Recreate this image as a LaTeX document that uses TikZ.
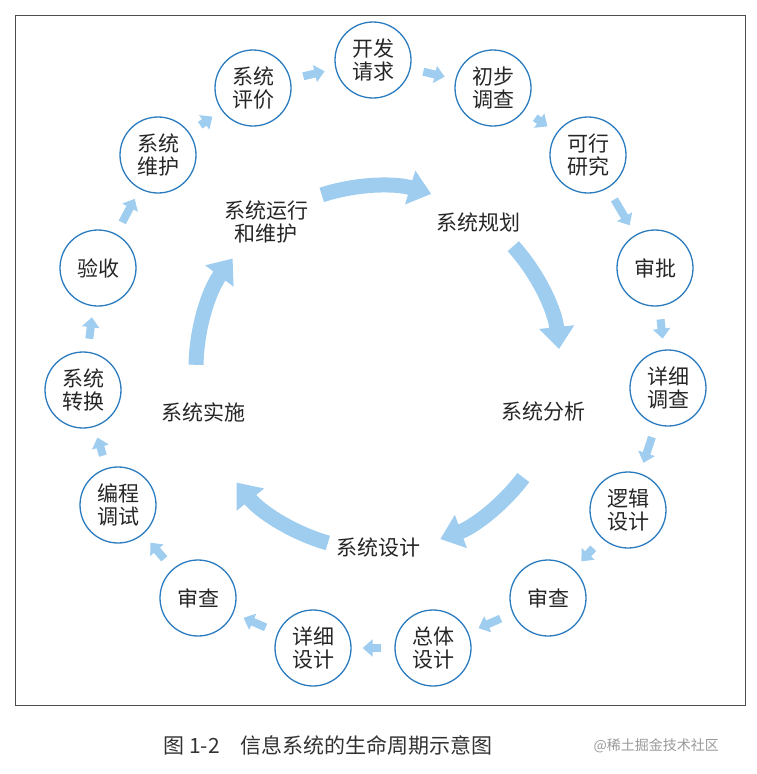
\documentclass[tikz,border=0pt]{standalone}
\usepackage{fontspec}
\setmainfont{Noto Sans CJK SC}
\usetikzlibrary{arrows.meta}
\definecolor{lb}{HTML}{9FCDF0}
\definecolor{cb}{HTML}{2B7BBF}
\tikzset{x=1pt,y=-1pt,
 stage/.style={circle,draw=cb,line width=1.3pt,minimum size=76pt,inner sep=0pt,align=center,font=\fontsize{21}{23}\selectfont,text=black!85},
 smallarr/.style={draw=lb,line width=8pt,shorten <=13pt,shorten >=11pt,-{Triangle[length=10pt,width=17pt]}},
 bigarr/.style={draw=lb,line width=15pt,-{Triangle[length=22pt,width=34pt]}},
 phase/.style={font=\fontsize{21}{23}\selectfont,align=center,text=black!85}}
\begin{document}
\begin{tikzpicture}
\useasboundingbox (0,0) rectangle (756,774);
\draw[black!70,line width=0.8pt] (15,15) rectangle (745,705);
\node[stage] (n1) at (373,60) {开发\\请求};
\node[stage] (n2) at (493,88) {初步\\调查};
\node[stage] (n3) at (588,155) {可行\\研究};
\node[stage] (n4) at (655,268) {审批};
\node[stage] (n5) at (668,388) {详细\\调查};
\node[stage] (n6) at (628,510) {逻辑\\设计};
\node[stage] (n7) at (548,598) {审查};
\node[stage] (n8) at (433,648) {总体\\设计};
\node[stage] (n9) at (313,648) {详细\\设计};
\node[stage] (n10) at (198,598) {审查};
\node[stage] (n11) at (118,505) {编程\\调试};
\node[stage] (n12) at (83,390) {系统\\转换};
\node[stage] (n13) at (98,268) {验收};
\node[stage] (n14) at (158,155) {系统\\维护};
\node[stage] (n15) at (253,88) {系统\\评价};
\foreach \a/\b in {n1/n2,n2/n3,n3/n4,n4/n5,n5/n6,n6/n7,n7/n8,n8/n9,n9/n10,n10/n11,n11/n12,n12/n13,n13/n14,n14/n15,n15/n1}
  \draw[smallarr] (\a) -- (\b);
\coordinate (c) at (378,368);
\draw[bigarr] ([shift={(-108:182)}]c) arc[start angle=-108,end angle=-73,radius=182];
\draw[bigarr] ([shift={(-42:182)}]c) arc[start angle=-42,end angle=-6,radius=182];
\draw[bigarr] ([shift={(37:182)}]c) arc[start angle=37,end angle=70,radius=182];
\draw[bigarr] ([shift={(106:182)}]c) arc[start angle=106,end angle=141,radius=182];
\draw[bigarr] ([shift={(181:182)}]c) arc[start angle=181,end angle=217,radius=182];
\node[phase] (p1) at (266,222) {系统运行\\和维护};
\node[phase] (p2) at (478,222) {系统规划};
\node[phase] (p3) at (543,412) {系统分析};
\node[phase] (p4) at (378,548) {系统设计};
\node[phase] (p5) at (203,412) {系统实施};
\node[font=\fontsize{21}{23}\selectfont,anchor=west,text=black!80] (cap) at (160,745) {图 1-2\quad 信息系统的生命周期示意图};
\node[font=\fontsize{14}{16}\selectfont,anchor=west,text=black!40] (wm) at (590,746) {@稀土掘金技术社区};
\end{tikzpicture}
\end{document}
